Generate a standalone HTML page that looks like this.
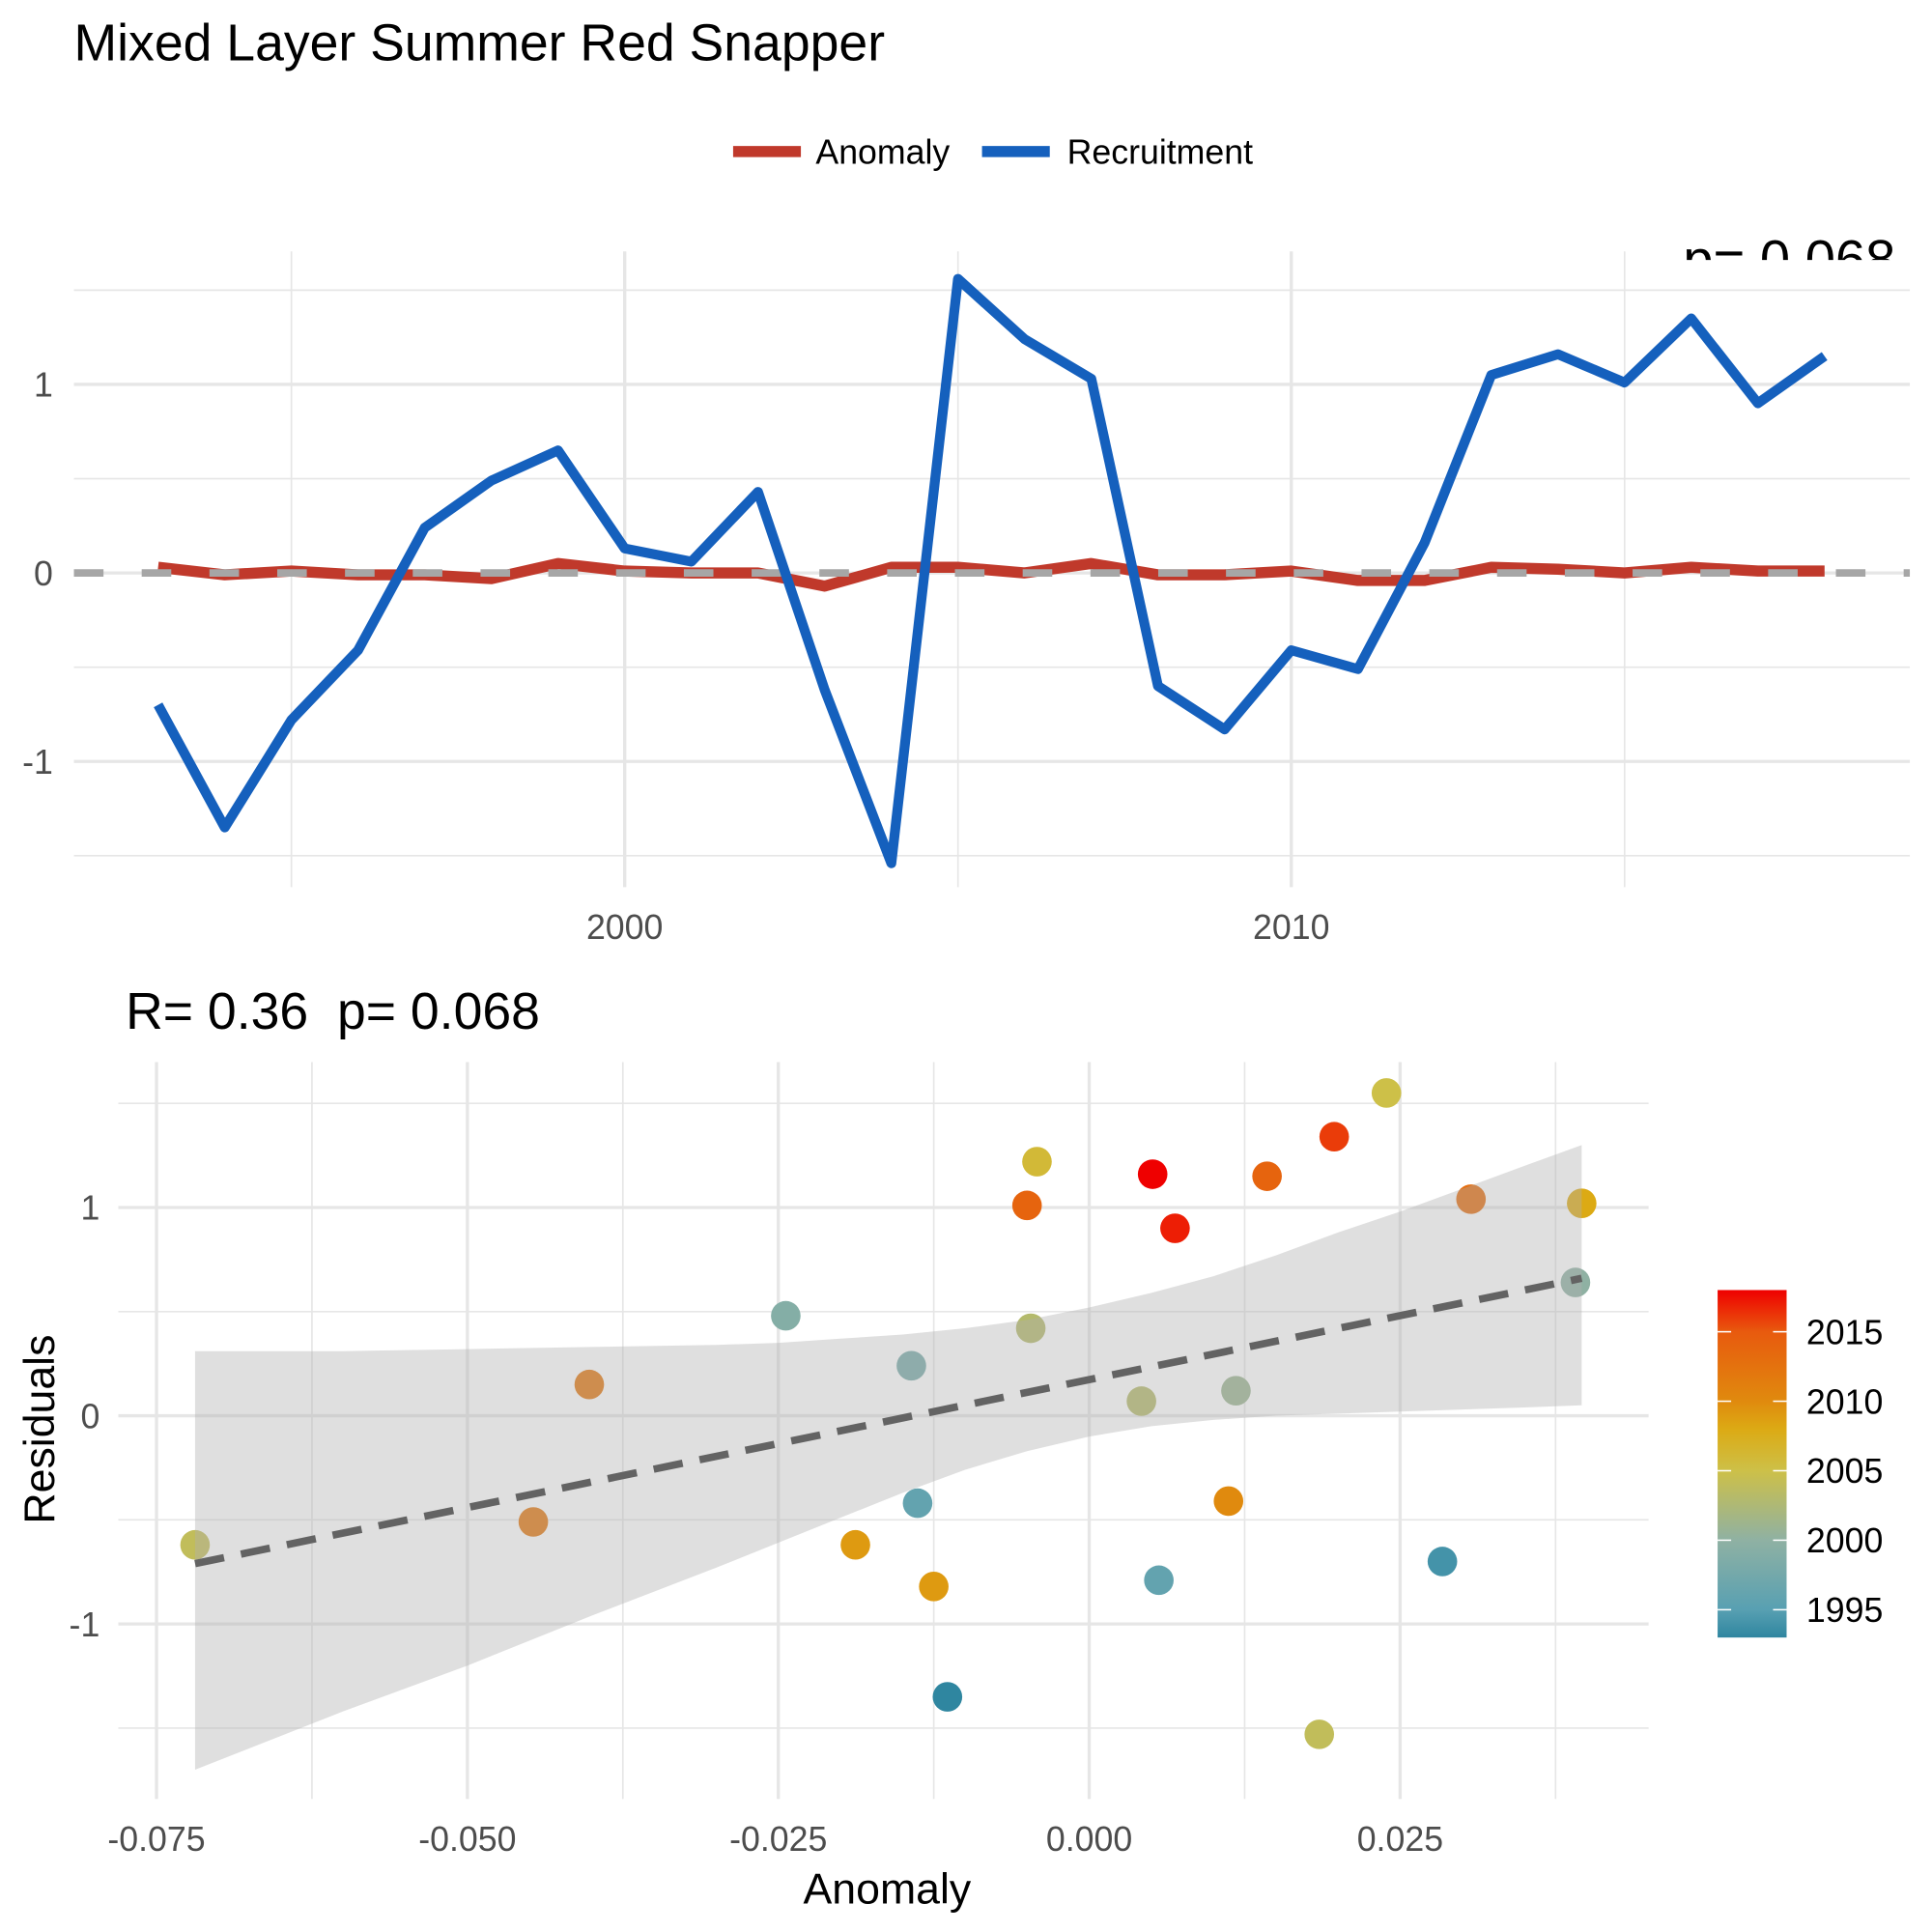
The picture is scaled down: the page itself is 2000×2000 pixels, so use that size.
<!DOCTYPE html>
<html><head><meta charset="utf-8"><style>
html,body{margin:0;padding:0;background:#fff}
svg{display:block;font-family:"Liberation Sans",Arial,sans-serif}
</style></head><body>
<svg id="chart" width="2000" height="2000" viewBox="0 0 1568 1568" xmlns="http://www.w3.org/2000/svg">
<defs>
<linearGradient id="cbar" x1="0" y1="1" x2="0" y2="0">
<stop offset="0" stop-color="#2f86a0"/><stop offset="0.08" stop-color="#58a0b2"/><stop offset="0.28" stop-color="#8fb1a3"/><stop offset="0.48" stop-color="#cdc048"/><stop offset="0.6" stop-color="#dcaa14"/><stop offset="0.68" stop-color="#e08a0e"/><stop offset="0.88" stop-color="#e85a0e"/><stop offset="1" stop-color="#ef0000"/>
</linearGradient>
<clipPath id="topclip"><rect x="0" y="0" width="1568" height="211"/></clipPath>
</defs>
<text x="60" y="49" font-size="42" fill="#000">Mixed Layer Summer Red Snapper</text>
<g>
<line x1="595" y1="123" x2="650" y2="123" stroke="#c0392b" stroke-width="9"/>
<text x="662" y="133" font-size="28">Anomaly</text>
<line x1="797" y1="123" x2="852" y2="123" stroke="#1560bd" stroke-width="9"/>
<text x="866" y="133" font-size="28">Recruitment</text>
</g>
<text clip-path="url(#topclip)" x="1366" y="226" font-size="44" fill="#000">p= 0.068</text>
<g id="topPanel"></g>
<text x="102" y="835" font-size="42" fill="#000" xml:space="preserve">R= 0.36  p= 0.068</text>
<g id="botPanel"></g>
<text transform="translate(44,1160) rotate(-90)" text-anchor="middle" font-size="35">Residuals</text>
<text x="720" y="1545" text-anchor="middle" font-size="35">Anomaly</text>
<g>
<rect x="1394" y="1047" width="56" height="282" fill="url(#cbar)"/>
<g id="cbticks"></g>
</g>
</svg>
<script>
const years=[1993,1994,1995,1996,1997,1998,1999,2000,2001,2002,2003,2004,2005,2006,2007,2008,2009,2010,2011,2012,2013,2014,2015,2016,2017,2018];
const recruitment=[-0.70,-1.35,-0.78,-0.41,0.24,0.49,0.65,0.13,0.06,0.43,-0.62,-1.54,1.56,1.24,1.03,-0.60,-0.83,-0.41,-0.51,0.16,1.05,1.16,1.01,1.35,0.90,1.15];
const anomalySeries=[0.03,-0.01,0.01,-0.01,-0.01,-0.03,0.05,0.01,0.0,0.0,-0.07,0.03,0.03,0.0,0.05,-0.01,-0.01,0.01,-0.04,-0.04,0.03,0.02,0.0,0.03,0.01,0.01];
const topYTicks=[-1,0,1];
const topXTicks=[2000,2010];
const ptAnom=[-0.0719,-0.0447,-0.0402,-0.0244,-0.0143,-0.0138,-0.0188,-0.0125,-0.0114,-0.005,-0.0042,-0.0047,0.0051,0.0069,0.0042,0.0056,0.0118,0.0112,0.0143,0.0197,0.0239,0.0185,0.0307,0.0284,0.0396,0.0391];
const ptResid=[-0.62,-0.51,0.15,0.48,0.24,-0.42,-0.62,-0.82,-1.35,1.01,1.22,0.42,1.16,0.90,0.07,-0.79,0.12,-0.41,1.15,1.34,1.55,-1.53,1.04,-0.70,1.02,0.64];
const ptYear=[2004,2012,2012,1999,1998,1996,2009,2009,1993,2014,2006,2003,2018,2017,2003,1996,2001,2010,2014,2016,2005,2004,2013,1994,2008,2000];
const fitX=[-0.0719,0.0396];
const fitY=[-0.71,0.66];
const bandX=[-0.0719,-0.06,-0.05,-0.04,-0.03,-0.025,-0.02,-0.015,-0.01,-0.005,0,0.005,0.01,0.015,0.02,0.025,0.03,0.035,0.0396];
const bandHi=[0.31,0.31,0.32,0.33,0.34,0.35,0.37,0.39,0.42,0.46,0.52,0.59,0.67,0.77,0.88,0.98,1.09,1.20,1.30];
const bandLo=[-1.70,-1.42,-1.20,-0.96,-0.73,-0.61,-0.49,-0.37,-0.26,-0.17,-0.10,-0.05,-0.02,0.0,0.01,0.02,0.03,0.04,0.05];
const botXTicks=[-0.075,-0.050,-0.025,0.000,0.025];
const botXLabels=["-0.075","-0.050","-0.025","0.000","0.025"];
const botYTicks=[-1,0,1];
const cbTicks=[1995,2000,2005,2010,2015];

const NS="http://www.w3.org/2000/svg";
function mk(p,t,a){const e=document.createElementNS(NS,t);for(const k in a)e.setAttribute(k,a[k]);p.appendChild(e);return e;}
const tg=document.getElementById('topPanel'),bg=document.getElementById('botPanel');
const tx=y=>507+(y-2000)*54.1, ty=v=>465-v*153;
for(let v=-1.5;v<=1.51;v+=0.5){const l=mk(tg,'line',{x1:60,x2:1550,y1:ty(v),y2:ty(v),stroke:'#e6e6e6','stroke-width':Number.isInteger(v)?2.6:1.3});

}
for(let y=1995;y<=2015;y+=5){const l=mk(tg,'line',{x1:tx(y),x2:tx(y),y1:204,y2:720,stroke:'#e6e6e6','stroke-width':y%10===0?2.6:1.3});

}
topYTicks.forEach(v=>{const t=mk(tg,'text',{x:43,y:ty(v)+10,'text-anchor':'end','font-size':28,fill:'#4d4d4d'});t.textContent=String(v);

});
topXTicks.forEach(v=>{const t=mk(tg,'text',{x:tx(v),y:762,'text-anchor':'middle','font-size':28,fill:'#4d4d4d'});t.textContent=String(v);

});
const an=mk(tg,'polyline',{points:years.map((y,i)=>tx(y)+','+ty(anomalySeries[i])).join(' '),fill:'none',stroke:'#c0392b','stroke-width':9,'stroke-linejoin':'round'});


const zl=mk(tg,'line',{x1:60,x2:1550,y1:ty(0),y2:ty(0),stroke:'#a6a6a6','stroke-width':6,'stroke-dasharray':'24 31'});


const rc=mk(tg,'polyline',{points:years.map((y,i)=>tx(y)+','+ty(recruitment[i])).join(' '),fill:'none',stroke:'#1560bd','stroke-width':8,'stroke-linejoin':'round'});


const bx=a=>884+a*10093, by=v=>1149-v*169;
for(let v=-1.5;v<=1.51;v+=0.5){const l=mk(bg,'line',{x1:96,x2:1338,y1:by(v),y2:by(v),stroke:'#e6e6e6','stroke-width':Number.isInteger(v)?2.6:1.3});

}
for(let k=-6;k<=3;k++){const a=k*0.0125;const l=mk(bg,'line',{x1:bx(a),x2:bx(a),y1:862,y2:1460,stroke:'#e6e6e6','stroke-width':k%2===0?2.6:1.3});

}
botYTicks.forEach(v=>{const t=mk(bg,'text',{x:81,y:by(v)+10,'text-anchor':'end','font-size':28,fill:'#4d4d4d'});t.textContent=String(v);

});
botXTicks.forEach((v,i)=>{const t=mk(bg,'text',{x:bx(v),y:1502,'text-anchor':'middle','font-size':28,fill:'#4d4d4d'});t.textContent=botXLabels[i];

});
const stops=[[1993,[47,134,160]],[1995,[88,160,178]],[2000,[143,177,163]],[2005,[205,192,72]],[2008,[220,170,20]],[2010,[224,138,14]],[2015,[232,90,14]],[2018,[239,0,0]]];
function col(y){for(let i=0;i<stops.length-1;i++){const [a,ca]=stops[i],[b,cb]=stops[i+1];if(y<=b){const f=(y-a)/(b-a);return 'rgb('+ca.map((c,j)=>Math.round(c+(cb[j]-c)*f)).join(',')+')';}}return 'rgb(239,0,0)';}
ptAnom.forEach((a,i)=>{const c=mk(bg,'circle',{cx:bx(a),cy:by(ptResid[i]),r:12,fill:col(ptYear[i])});

});
const bp=bandX.map((a,i)=>bx(a)+','+by(bandHi[i])).concat(bandX.slice().reverse().map((a,i)=>bx(a)+','+by(bandLo[bandX.length-1-i])));
const band=mk(bg,'polygon',{points:bp.join(' '),fill:'#b0b0b0','fill-opacity':0.4});


const fl=mk(bg,'line',{x1:bx(fitX[0]),y1:by(fitY[0]),x2:bx(fitX[1]),y2:by(fitY[1]),stroke:'#636363','stroke-width':6,'stroke-dasharray':'24 14'});


const cbg=document.getElementById('cbticks');
const cy=y=>1329-(y-1993)/25*282;
cbTicks.forEach(y=>{
const a=mk(cbg,'line',{x1:1394,x2:1405,y1:cy(y),y2:cy(y),stroke:'#fff','stroke-width':1.2});


const b=mk(cbg,'line',{x1:1439,x2:1450,y1:cy(y),y2:cy(y),stroke:'#fff','stroke-width':1.2});


const t=mk(cbg,'text',{x:1466,y:cy(y)+10,'font-size':28,fill:'#000'});t.textContent=String(y);

});
</script>
</body></html>
